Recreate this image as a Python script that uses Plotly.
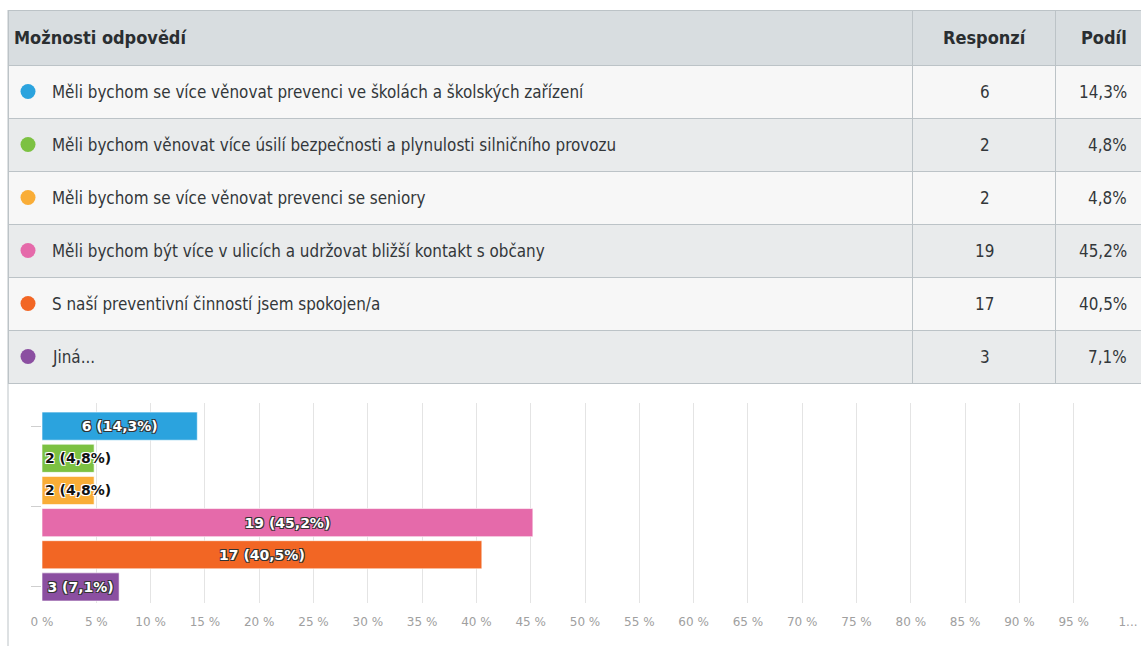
import plotly.graph_objects as go

# ---------------- data ----------------
options = [
    "Měli bychom se více věnovat prevenci ve školách a školských zařízení",
    "Měli bychom věnovat více úsilí bezpečnosti a plynulosti silničního provozu",
    "Měli bychom se více věnovat prevenci se seniory",
    "Měli bychom být více v ulicích a udržovat bližší kontakt s občany",
    "S naší preventivní činností jsem spokojen/a",
    "Jiná...",
]
responses = [6, 2, 2, 19, 17, 3]
shares = [14.3, 4.8, 4.8, 45.2, 40.5, 7.1]
colors = ["#2ba3de", "#7cc142", "#f9ad37", "#e56aaa", "#f26624", "#8b4fa1"]
headers = ["Možnosti odpovědí", "Responzí", "Podíl"]
tick_vals = list(range(0, 101, 5))
tick_text = [f"{v} %" for v in tick_vals[:-1]] + ["1..."]

W, H = 1141, 646
FONT_T = "Liberation Sans Narrow, DejaVu Sans Condensed, Roboto Condensed, Liberation Sans, sans-serif"


def fmt(v):
    return f"{v:.1f}".replace(".", ",")


share_txt = [fmt(s) + "%" for s in shares]
row_fill = ["#f7f7f7" if i % 2 == 0 else "#e9ebec" for i in range(len(options))]

TOP, HEAD_H, ROW_H = 10, 55, 53
body_top = TOP + HEAD_H
body_bot = body_top + ROW_H * len(options)
COL_X = [8, 912, 1055, W]               # column borders (px)
n = len(options)

fig = go.Figure()

# table grid (fills and borders); texts are placed on the row axis below so
# they sit in the vertical middle of every cell
fig.add_trace(go.Table(
    domain=dict(x=[COL_X[0] / W, 1.0], y=[1 - (body_bot + 8) / H, 1 - TOP / H]),
    columnwidth=[COL_X[1] - COL_X[0], COL_X[2] - COL_X[1], COL_X[3] - COL_X[2]],
    header=dict(values=["", "", ""], fill_color="#d8dde0",
                line=dict(color="#bcc3c7", width=1), height=HEAD_H),
    cells=dict(values=[[""] * n] * 3, fill_color=[row_fill] * 3,
               line=dict(color="#bcc3c7", width=1), height=ROW_H),
    hoverinfo="skip",
))

# helper trace so the row axis (y2) knows the categories
fig.add_trace(go.Scatter(
    x=[0] * n, y=options, mode="markers",
    marker=dict(opacity=0), xaxis="x2", yaxis="y2",
    hoverinfo="skip", showlegend=False,
))

for i, (opt, r, s, c) in enumerate(zip(options, responses, shares, colors)):
    narrow = s < 6
    fig.add_trace(go.Bar(
        y=[opt], x=[s], orientation="h",
        marker=dict(color=c, line=dict(color="rgba(255,255,255,0.6)", width=1)),
        text=[f"{r} ({fmt(s)}%)"],
        textposition="inside",
        insidetextanchor="start" if narrow else "middle",
        constraintext="none",
        textfont=dict(
            family="DejaVu Sans, sans-serif", size=14, weight="bold",
            color="#111111" if narrow else "#ffffff",
            shadow=("-1px -1px 0 #fff, 1px -1px 0 #fff, -1px 1px 0 #fff, 1px 1px 0 #fff" if narrow
                    else "-1px -1px 0 #333, 1px -1px 0 #333, -1px 1px 0 #333, 1px 1px 0 #333"),
        ),
        hoverinfo="skip",
        showlegend=False,
        xaxis="x", yaxis="y",
    ))

cell_font = dict(family=FONT_T, size=16.9, color="#33373a")
head_font = dict(family=FONT_T, size=18, color="#2a2e31")
annotations = []
# header texts
head_y = 1 - (TOP + HEAD_H / 2) / H
for h, x, anc in zip(headers, [12, 984.5, 1129], ["left", "center", "right"]):
    annotations.append(dict(text=f"<b>{h}</b>", xref="paper", yref="paper",
                            x=x / W, y=head_y, xanchor=anc, yanchor="middle",
                            showarrow=False, font=head_font))
# body texts
for opt, r, st in zip(options, responses, share_txt):
    for t, x, anc in zip([opt, str(r), st], [50, 984.5, 1129], ["left", "center", "right"]):
        annotations.append(dict(text=t, xref="paper", yref="y2",
                                x=x / W, y=opt, xanchor=anc, yanchor="middle",
                                showarrow=False, font=cell_font))

# coloured dots in front of each answer
dots = [dict(type="circle", layer="above",
             xref="paper", xsizemode="pixel", xanchor=28 / W, x0=-7.5, x1=7.5,
             yref="y2", ysizemode="pixel", yanchor=opt, y0=-7.5, y1=7.5,
             fillcolor=c, line=dict(width=0))
        for opt, c in zip(options, colors)]

fig.update_layout(
    width=W, height=H,
    margin=dict(l=0, r=0, t=0, b=0),
    paper_bgcolor="#ffffff",
    plot_bgcolor="rgba(0,0,0,0)",
    barmode="overlay",
    bargap=0.125,
    xaxis=dict(
        domain=[42 / W, 1128 / W],
        range=[0, 100], automargin=False,
        tickvals=tick_vals, ticktext=tick_text,
        showgrid=True, gridcolor="#e4e4e4", gridwidth=1,
        zeroline=False, showline=False,
        tickfont=dict(family="DejaVu Sans, sans-serif", size=12, color="#a0a0a0"),
        ticks="", ticklabelstandoff=10,
    ),
    yaxis=dict(
        domain=[1 - 603 / H, 1 - 403 / H],
        categoryorder="array", categoryarray=options,
        range=[5.5, -0.72], automargin=False,
        showticklabels=False, showgrid=False, zeroline=False,
        tickmode="array", tickvals=[0, 2.5, 5],
        ticks="outside", ticklen=10, tickcolor="#cfcfcf", tickwidth=1,
    ),
    xaxis2=dict(domain=[0, 1], range=[-1, 1], visible=False, automargin=False,
                anchor="y2", fixedrange=True),
    yaxis2=dict(domain=[1 - body_bot / H, 1 - body_top / H], visible=False,
                type="category", categoryorder="array", categoryarray=options,
                range=[n - 0.5, -0.5], automargin=False,
                anchor="x2", fixedrange=True),
    shapes=[dict(type="line", xref="paper", yref="paper",
                 x0=8 / W, x1=8 / W, y0=0, y1=1 - TOP / H,
                 line=dict(color="#bcc3c7", width=1))] + dots,
    annotations=annotations,
)

fig.write_html("out.html", config={"displayModeBar": False},
               post_script="document.body.style.margin='0';document.body.style.overflow='hidden';")
